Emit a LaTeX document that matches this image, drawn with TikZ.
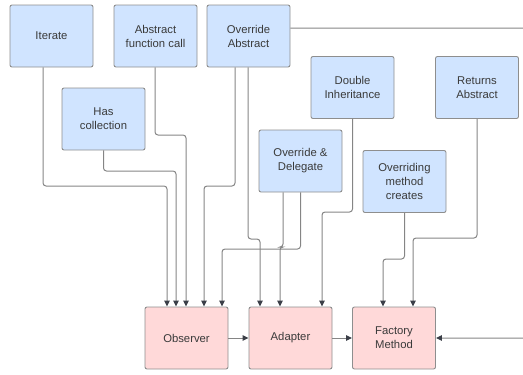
\documentclass[tikz,border=0pt]{standalone}
\usepackage{fontspec}
\setmainfont{Liberation Sans}
\usetikzlibrary{arrows.meta}
\definecolor{boxblue}{HTML}{D0E4FF}
\definecolor{boxpink}{HTML}{FFD9D9}
\definecolor{boxline}{HTML}{8E8E8E}
\definecolor{wire}{HTML}{858585}
\definecolor{tip}{HTML}{3B3F48}
\definecolor{txt}{HTML}{3A3A3A}
\tikzset{node:style/.style={draw=boxline,line width=0.9pt,rounded corners=2pt,minimum width=83pt,minimum height=62pt,align=center,text=txt,font=\fontsize{11.3}{14}\selectfont,inner sep=1pt}}
\tikzset{node:idea/.style={node:style,fill=boxblue}}
\tikzset{node:pattern/.style={node:style,fill=boxpink}}
\tikzset{edge:style/.style={draw=wire,line width=1pt,rounded corners=3pt,-{Triangle[length=6pt,width=5.5pt,color=tip]}}}
\def\myW{523}
\def\myH{375}

\begin{document}
\begin{tikzpicture}[x=1pt,y=-1pt]
	
	\useasboundingbox (0,0) rectangle (\myW,\myH);
	\clip (0,0) rectangle (\myW,\myH);
	
	\path 
		(51.5,36) coordinate (citerate)
		(155.5,36) coordinate (cabstractfn)
		(248.5,36) coordinate (coverrideabs)
		(103.5,119) coordinate (chascoll)
		(352.5,87.5) coordinate (cdoubleinh)
		(477,87.5) coordinate (creturnsabs)
		(300.5,161) coordinate (coverdeleg)
		(404.5,181.5) coordinate (coverriding)
		(186.5,338) coordinate (cobserver)
		(290.5,338) coordinate (cadapter)
		(394,338) coordinate (cfactory);
	
	\path (citerate) node[node:idea] (iterate) {Iterate};
	\path (cabstractfn) node[node:idea] (abstractfn) {Abstract\\function call};
	\path (coverrideabs) node[node:idea] (overrideabs) {Override\\Abstract};
	\path (chascoll) node[node:idea] (hascoll) {Has\\collection};
	\path (cdoubleinh) node[node:idea] (doubleinh) {Double\\Inheritance};
	\path (creturnsabs) node[node:idea] (returnsabs) {Returns\\Abstract};
	\path (coverdeleg) node[node:idea] (overdeleg) {Override \&\\Delegate};
	\path (coverriding) node[node:idea] (overriding) {Overriding\\method\\creates};
	\path (cobserver) node[node:pattern] (observer) {Observer};
	\path (cadapter) node[node:pattern] (adapter) {Adapter};
	\path (cfactory) node[node:pattern] (factory) {Factory\\Method};
	
	\path ([xshift=-19.5pt]observer.north) coordinate (ob1);
	\path ([xshift=-10.5pt]observer.north) coordinate (ob2);
	\path ([xshift=-0.5pt]observer.north) coordinate (ob3);
	\path ([xshift=17.5pt]observer.north) coordinate (ob4);
	\path ([xshift=35.5pt]observer.north) coordinate (ob5);
	\path ([xshift=-30.5pt]adapter.north) coordinate (ad1);
	\path ([xshift=-10.5pt]adapter.north) coordinate (ad2);
	\path ([xshift=31.5pt]adapter.north) coordinate (ad3);
	\path ([xshift=-11pt]factory.north) coordinate (fm1);
	\path ([xshift=19pt]factory.north) coordinate (fm2);
	
	\path[edge:style] ([xshift=-8.5pt]iterate.south) |- (ob1 |- 0,186) -- (ob1);
	\path[edge:style] (hascoll.south) |- (ob2 |- 0,171) -- (ob2);
	\path[edge:style] ([xshift=-0.5pt]abstractfn.south) |- (ob3 |- 0,135) -- (ob3);
	\path[edge:style] ([xshift=-13.5pt]overrideabs.south) |- (ob4 |- 0,186) -- (ob4);
	\path[edge:style] ([xshift=-0.5pt]overrideabs.south) |- (ad1 |- 0,239) -- (ad1);
	\path[edge:style] ([xshift=-17.5pt]overdeleg.south) |- (ad2 |- 0,247) -- (ad2);
	\path[edge:style] (overdeleg.south) |- (ob5 |- 0,249) -- (ob5);
	\path[edge:style] (doubleinh.south) |- (ad3 |- 0,212) -- (ad3);
	\path[edge:style] (overriding.south) |- (fm1 |- 0,259) -- (fm1);
	\path[edge:style] (returnsabs.south) |- (fm2 |- 0,238) -- (fm2);
	
	\path[edge:style] (observer) -- (adapter);
	\path[edge:style] (adapter) -- (factory);
	\path[edge:style] ([yshift=8pt]overrideabs.east) -- (540,28) -- (540,338) -- (factory.east);
	
\end{tikzpicture}
\end{document}
